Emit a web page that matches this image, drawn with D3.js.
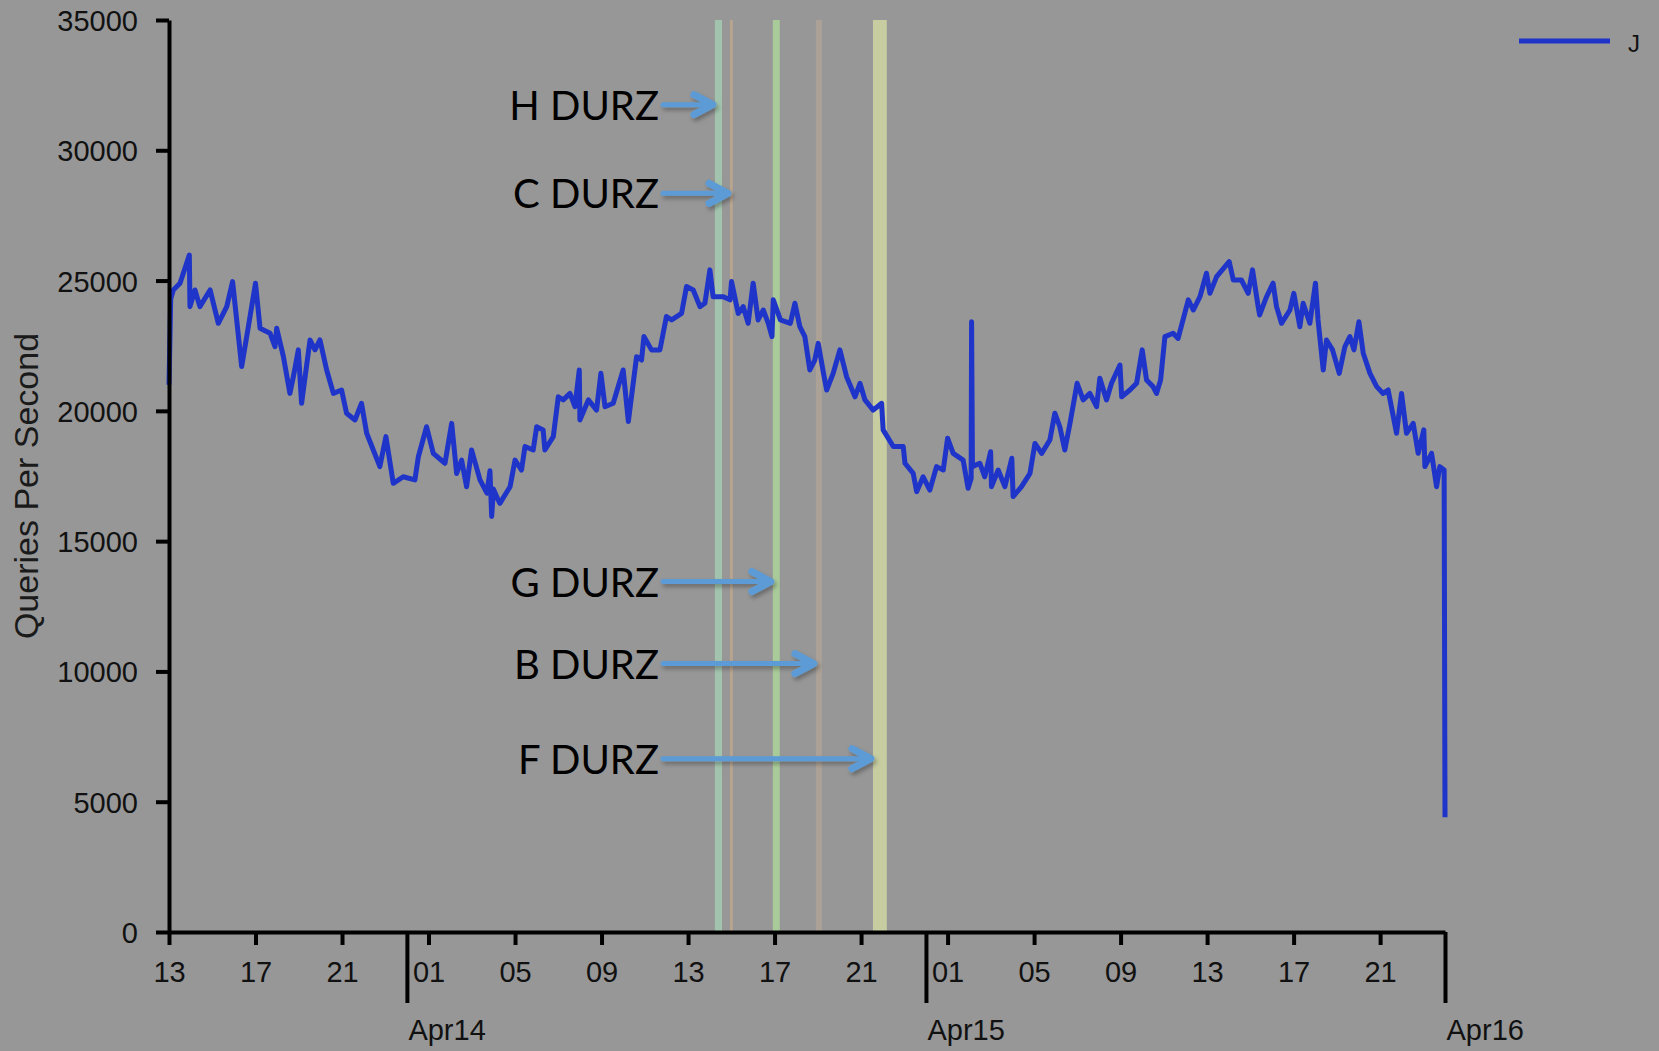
<!DOCTYPE html>
<html>
<head>
<meta charset="utf-8">
<script src="https://cdn.jsdelivr.net/npm/d3@7"></script>
<style>
  body { margin: 0; background: #979797; }
  svg { display: block; }
  .axis text { font-family: "Liberation Sans", Arial, sans-serif; fill: #111; }
</style>
</head>
<body>
<div id="chart"></div>
<script>
(function() {

    // hours since Apr13 13:00 (UTC) and queries per second for the J root
    var hours = [
        0.00, 0.08, 0.20, 0.51, 0.94, 0.97, 1.20, 1.43, 1.90, 2.28, 2.67, 2.94, 3.36, 3.67, 4.00,
        4.21, 4.67, 4.90, 4.98, 5.29, 5.59, 5.75, 5.98, 6.13, 6.52, 6.75, 6.98, 7.29, 7.60, 7.98,
        8.21, 8.60, 8.90, 9.14, 9.75, 10.03, 10.37, 10.83, 11.37, 11.53, 11.91, 12.22, 12.76, 13.07, 13.30,
        13.53, 13.76, 13.99, 14.38, 14.70, 14.84, 14.92, 15.00, 15.22, 15.30, 15.77, 16.00, 16.30, 16.46, 16.84,
        17.00, 17.30, 17.38, 17.77, 18.00, 18.23, 18.54, 18.77, 18.97, 19.00, 19.39, 19.77, 19.97, 20.16, 20.54,
        21.00, 21.24, 21.62, 21.85, 21.96, 22.31, 22.70, 23.00, 23.24, 23.70, 23.93, 24.24, 24.55, 24.78, 25.01,
        25.16, 25.63, 25.94, 26.01, 26.32, 26.55, 26.78, 27.01, 27.24, 27.48, 27.71, 27.88, 27.94, 28.27, 28.73,
        28.94, 29.17, 29.40, 29.63, 29.86, 30.02, 30.25, 30.41, 30.71, 31.02, 31.33, 31.72, 31.95, 32.18, 32.56,
        32.95, 33.02, 33.49, 33.95, 34.03, 34.41, 34.57, 34.87, 35.18, 35.49, 35.80, 36.00, 36.26, 36.72, 36.95,
        37.09, 37.11, 37.15, 37.49, 37.72, 37.99, 38.03, 38.34, 38.65, 38.97, 39.03, 39.42, 39.81, 40.04, 40.35,
        40.73, 40.96, 41.19, 41.42, 41.66, 41.99, 42.27, 42.58, 42.89, 43.04, 43.35, 43.58, 43.97, 44.05, 44.43,
        44.74, 45.00, 45.20, 45.50, 45.66, 45.85, 46.05, 46.43, 46.66, 47.13, 47.36, 47.67, 47.97, 48.13, 48.44,
        49.02, 49.21, 49.59, 49.90, 50.10, 50.36, 50.43, 50.75, 51.05, 51.21, 51.44, 51.83, 52.01, 52.29, 52.44,
        52.75, 53.01, 53.13, 53.37, 53.52, 53.80, 54.11, 54.37, 54.60, 54.79, 55.02, 55.22, 55.53, 55.84, 56.14,
        56.37, 56.76, 56.99, 57.22, 57.53, 57.76, 58.02, 58.07, 58.38, 58.61, 58.76, 58.96, 59.00
    ];
    var qps = [
        21000, 24300, 24640, 24900, 25980, 24000, 24640, 24000, 24640, 23360, 24000, 24960, 21700, 23230, 24900,
        23170, 22980, 22460, 23170, 22080, 20670, 21310, 22340, 20290, 22720, 22340, 22720, 21570, 20670, 20800,
        19910, 19650, 20290, 19140, 17860, 19010, 17220, 17470, 17350, 18240, 19390, 18370, 17990, 19520, 17600,
        18110, 17090, 18500, 17350, 16840, 17700, 15950, 17000, 16580, 16450, 17090, 18110, 17730, 18630, 18500,
        19390, 19270, 18500, 19010, 20540, 20420, 20670, 20160, 21570, 19650, 20420, 20030, 21440, 20160, 20290,
        21570, 19590, 22080, 21950, 22850, 22340, 22340, 23620, 23490, 23740, 24770, 24640, 24000, 24130, 25410,
        24380, 24380, 24260, 24960, 23740, 24000, 23360, 24900, 23490, 23870, 23360, 22850, 24260, 23490, 23360,
        24130, 23230, 22850, 21570, 21950, 22590, 21500, 20800, 21440, 22340, 21310, 20540, 21060, 20420, 20030,
        20290, 19270, 18630, 18630, 17990, 17600, 16900, 17470, 16960, 17860, 17730, 18950, 18370, 18110, 17030,
        17400, 23420, 17860, 17990, 17470, 18430, 17090, 17730, 17090, 18180, 16710, 17090, 17600, 18750, 18370,
        18880, 19910, 19390, 18500, 19520, 21060, 20420, 20670, 20160, 21250, 20420, 21060, 21760, 20540, 20800,
        21060, 22340, 21180, 20930, 20670, 21180, 22850, 22980, 22780, 24260, 23870, 24380, 25280, 24510, 25150,
        25730, 25020, 25020, 24510, 25410, 24000, 23680, 24380, 24900, 24000, 23360, 23870, 24510, 23230, 24130,
        23360, 24900, 23490, 21570, 22720, 22340, 21440, 22460, 22850, 22340, 23420, 22210, 21440, 20930, 20670,
        20800, 19140, 20670, 19140, 19520, 18370, 19270, 17860, 18370, 17090, 17860, 17730, 4400
    ];

    // DURZ change windows (hours since start)
    var bandStart = [25.24, 25.94, 27.92, 29.91, 32.55];
    var bandEnd   = [25.57, 26.07, 28.24, 30.19, 33.19];
    var bandColor = ["#a2c4ae", "#b9a58e", "#a9cb99", "#aba196", "#c7cda0"];

    // annotations: label, level of the arrow (qps) and hour the arrow points at
    var annotLabels = ["H DURZ", "C DURZ", "G DURZ", "B DURZ", "F DURZ"];
    var annotLevels = [31750, 28350, 13450, 10300, 6650];
    var annotTarget = [25.24, 25.94, 27.92, 29.91, 32.55];

    var yTicks = [0, 5000, 10000, 15000, 20000, 25000, 30000, 35000];
    var seriesName = "J";

    var width = 1659, height = 1051;
    var left = 169, right = 1445, top = 20, bottom = 932;
    var start = Date.UTC(2010, 3, 13, 13);
    var end = Date.UTC(2010, 3, 16, 0);
    var hourMs = 3600000;

    var x = d3.scaleUtc().domain([start, end]).range([left, right]);
    var y = d3.scaleLinear().domain([0, 35000]).range([bottom, top]);
    function hx(h) { return x(new Date(start + h * hourMs)); }

    var svg = d3.select("#chart")
        .append("svg")
        .attr("width", width)
        .attr("height", height);

    svg.append("rect")
        .attr("width", width)
        .attr("height", height)
        .attr("fill", "#979797");

    var defs = svg.append("defs");
    defs.append("filter")
        .attr("id", "shadow")
        .attr("x", "-20%").attr("y", "-50%")
        .attr("width", "140%").attr("height", "200%")
        .append("feDropShadow")
        .attr("dx", 2).attr("dy", 3)
        .attr("stdDeviation", 2)
        .attr("flood-color", "#000")
        .attr("flood-opacity", 0.3);

    // bands
    svg.selectAll(".band")
        .data(d3.range(bandStart.length))
        .enter()
        .append("rect")
        .attr("class", "band")
        .attr("x", function(i) { return hx(bandStart[i]); })
        .attr("width", function(i) { return hx(bandEnd[i]) - hx(bandStart[i]); })
        .attr("y", y(35000))
        .attr("height", y(0) - y(35000))
        .attr("fill", function(i) { return bandColor[i]; });

    // series line
    var line = d3.line()
        .x(function(d, i) { return hx(hours[i]); })
        .y(function(d) { return y(d); });

    svg.append("path")
        .datum(qps)
        .attr("d", line)
        .attr("fill", "none")
        .attr("stroke", "#1f34c9")
        .attr("stroke-width", 5)
        .attr("stroke-linejoin", "round");

    // y axis
    var yAxis = svg.append("g")
        .attr("class", "axis")
        .attr("transform", "translate(" + left + ",0)")
        .call(d3.axisLeft(y).tickValues(yTicks).tickFormat(d3.format("d"))
            .tickSize(13).tickSizeOuter(0).tickPadding(18));
    yAxis.selectAll("text").style("font-size", "29px").attr("dy", "0.36em");

    // x axis: hour ticks
    var hourTicks = d3.utcHour.range(start, end).filter(function(d) {
        return d.getUTCHours() % 4 === 1;
    });
    var xAxis = svg.append("g")
        .attr("class", "axis")
        .attr("transform", "translate(0," + bottom + ")")
        .call(d3.axisBottom(x).tickValues(hourTicks).tickFormat(d3.utcFormat("%H"))
            .tickSize(13).tickSizeOuter(0).tickPadding(16));
    xAxis.selectAll("text").style("font-size", "29px");

    // day ticks
    var dayTicks = d3.utcDay.range(start, end + 1);
    var dayAxis = svg.append("g")
        .attr("class", "axis")
        .attr("transform", "translate(0," + bottom + ")")
        .call(d3.axisBottom(x).tickValues(dayTicks).tickFormat(d3.utcFormat("%b%d"))
            .tickSize(71).tickSizeOuter(0).tickPadding(16));
    dayAxis.select(".domain").remove();
    dayAxis.selectAll("text")
        .style("font-size", "29px")
        .attr("text-anchor", "start")
        .attr("x", 1);

    svg.selectAll(".axis path, .axis line")
        .attr("stroke", "#000")
        .attr("stroke-width", 4);

    // y label
    svg.append("text")
        .attr("transform", "translate(38," + ((top + bottom) / 2 + 10) + ") rotate(-90)")
        .attr("text-anchor", "middle")
        .style("font-family", "Liberation Sans, Arial, sans-serif")
        .style("font-size", "34px")
        .style("fill", "#1a1a1a")
        .text("Queries Per Second");

    // legend
    var legend = svg.append("g");
    legend.append("line")
        .attr("x1", 1519).attr("x2", 1610)
        .attr("y1", 41).attr("y2", 41)
        .attr("stroke", "#1f34c9")
        .attr("stroke-width", 5);
    legend.append("text")
        .attr("x", 1628).attr("y", 52)
        .style("font-family", "Liberation Sans, Arial, sans-serif")
        .style("font-size", "24px")
        .style("fill", "#111")
        .text(seriesName);

    // annotations
    var labelRight = 659, arrowStart = 663;
    var ann = svg.selectAll(".annot")
        .data(d3.range(annotLabels.length))
        .enter()
        .append("g")
        .attr("class", "annot");

    ann.append("text")
        .attr("x", labelRight)
        .attr("y", function(i) { return y(annotLevels[i]) + 15; })
        .attr("text-anchor", "end")
        .style("font-family", "Lato, 'Open Sans', sans-serif")
        .style("font-size", "40px")
        .style("fill", "#000")
        .text(function(i) { return annotLabels[i]; });

    var arrows = ann.append("g")
        .attr("filter", "url(#shadow)")
        .attr("stroke", "#5b9bd5")
        .attr("fill", "none")
        .attr("stroke-linecap", "round")
        .attr("stroke-linejoin", "round");

    arrows.append("line")
        .attr("x1", arrowStart)
        .attr("x2", function(i) { return hx(annotTarget[i]) - 4; })
        .attr("y1", function(i) { return y(annotLevels[i]); })
        .attr("y2", function(i) { return y(annotLevels[i]); })
        .attr("stroke-width", 5);

    arrows.append("path")
        .attr("stroke-width", 7)
        .attr("d", function(i) {
            var tx = hx(annotTarget[i]) - 2, ty = y(annotLevels[i]);
            return "M" + (tx - 19) + "," + (ty - 10) + "L" + tx + "," + ty + "L" + (tx - 19) + "," + (ty + 10);
        });

})();
</script>
</body>
</html>
